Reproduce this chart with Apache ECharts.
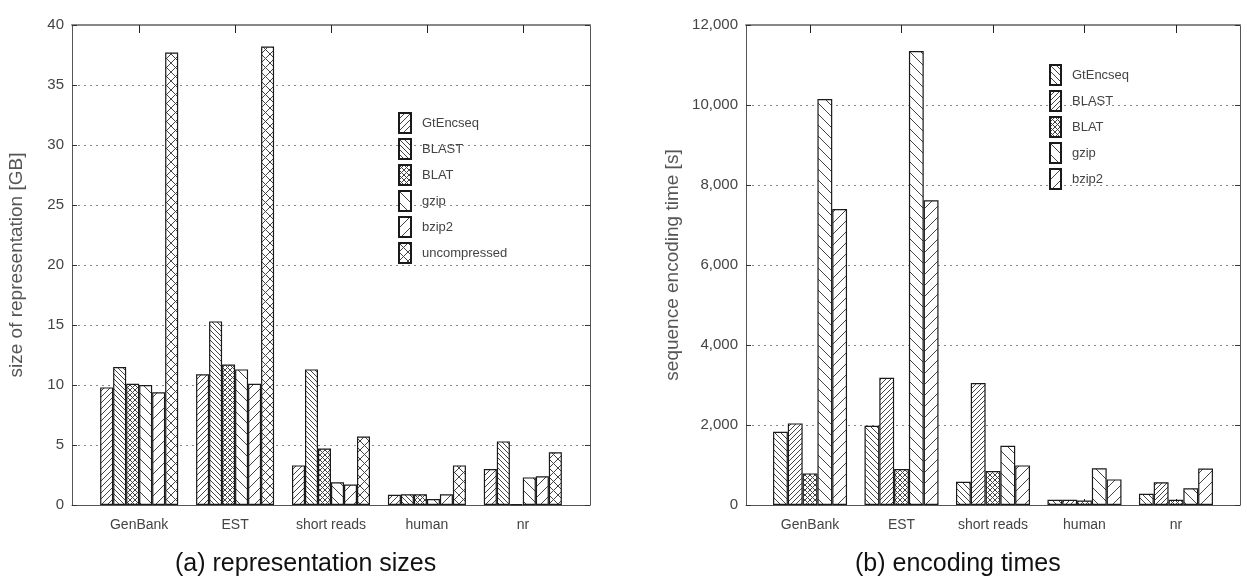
<!DOCTYPE html>
<html>
<head>
<meta charset="utf-8">
<script src="https://cdn.jsdelivr.net/npm/echarts@6.0.0/dist/echarts.min.js"></script>
<style>
  html, body { margin: 0; padding: 0; background: #fff; }
  #chart { width: 1247px; height: 588px; }
</style>
</head>
<body>
<div id="chart"></div>
<script>
  // data
  const categories = ['GenBank', 'EST', 'short reads', 'human', 'nr'];

  // (a) representation sizes [GB]
  const sizeNames = ['GtEncseq', 'BLAST', 'BLAT', 'gzip', 'bzip2', 'uncompressed'];
  const sizeGtEncseq = [9.8, 10.9, 3.3, 0.85, 3.0];
  const sizeBLAST = [11.5, 15.3, 11.3, 0.9, 5.3];
  const sizeBLAT = [10.1, 11.7, 4.7, 0.9, 0.05];
  const sizeGzip = [10.0, 11.3, 1.9, 0.5, 2.3];
  const sizeBzip2 = [9.4, 10.1, 1.7, 0.9, 2.4];
  const sizeUncompressed = [37.7, 38.2, 5.7, 3.3, 4.4];
  const sizeTicks = [0, 40, 5];

  // (b) encoding times [s]
  const timeNames = ['GtEncseq', 'BLAST', 'BLAT', 'gzip', 'bzip2'];
  const timeGtEncseq = [1830, 1980, 580, 130, 280];
  const timeBLAST = [2040, 3180, 3050, 130, 570];
  const timeBLAT = [790, 900, 850, 110, 130];
  const timeGzip = [10150, 11350, 1480, 920, 420];
  const timeBzip2 = [7400, 7620, 990, 640, 910];
  const timeTicks = [0, 12000, 2000];

  const textFont = '"Liberation Sans", Arial, sans-serif';
  const grey = '#555';

  // hatch fills like gnuplot patterns
  const makeHatch = (spacing, kinds) => {
    const c = document.createElement('canvas');
    c.width = c.height = spacing;
    const ctx = c.getContext('2d');
    ctx.fillStyle = '#fff';
    ctx.fillRect(0, 0, spacing, spacing);
    ctx.strokeStyle = '#444';
    ctx.lineWidth = 1;
    kinds.forEach(k => {
      for (let o = -spacing; o <= spacing; o += spacing) {
        ctx.beginPath();
        if (k === '/') {
          ctx.moveTo(o, spacing);
          ctx.lineTo(o + spacing, 0);
        } else {
          ctx.moveTo(o, 0);
          ctx.lineTo(o + spacing, spacing);
        }
        ctx.stroke();
      }
    });
    return { image: c, repeat: 'repeat' };
  };

  const sizeFills = [
    makeHatch(6, ['/']),
    makeHatch(5, ['\\']),
    makeHatch(5, ['/', '\\']),
    makeHatch(11, ['\\']),
    makeHatch(11, ['/']),
    makeHatch(9, ['/', '\\'])
  ];
  const timeFills = [
    makeHatch(6, ['\\']),
    makeHatch(5, ['/']),
    makeHatch(5, ['/', '\\']),
    makeHatch(11, ['\\']),
    makeHatch(11, ['/'])
  ];

  const catIdx = [0, 1, 2, 3, 4];

  const makeBars = (names, lists, fills, axisIdx, width, prefix) =>
    names.map((name, k) => ({
      name: prefix + name,
      type: 'bar',
      xAxisIndex: axisIdx,
      yAxisIndex: axisIdx,
      barWidth: width,
      barGap: '0%',
      data: lists[k].map((v, i) => [i, v]),
      itemStyle: { color: fills[k], borderColor: '#1a1a1a', borderWidth: 1.2 },
      emphasis: { disabled: true }
    }));

  const xAxes = (gridIndex) => [
    {
      type: 'value', gridIndex, min: -0.7, max: 4.7, position: 'bottom',
      axisLine: { onZero: false, lineStyle: { color: grey } },
      axisTick: { inside: true, length: 6, customValues: catIdx, lineStyle: { color: '#222' } },
      axisLabel: {
        customValues: catIdx, formatter: v => categories[Math.round(v)],
        margin: 13, fontSize: 14, color: '#444', fontFamily: textFont
      },
      splitLine: { show: false }
    },
    {
      type: 'value', gridIndex, min: -0.7, max: 4.7, position: 'top',
      axisLine: { onZero: false, lineStyle: { color: '#888', width: 2 } },
      axisTick: { inside: true, length: 8, customValues: catIdx, lineStyle: { color: '#222' } },
      axisLabel: { show: false },
      splitLine: { show: false }
    }
  ];

  const yAxes = (gridIndex, ticks, name, gap, fmt) => [
    {
      type: 'value', gridIndex, min: ticks[0], max: ticks[1], interval: ticks[2],
      position: 'left', name, nameLocation: 'middle', nameGap: gap,
      nameTextStyle: { fontSize: 19, color: grey, fontFamily: textFont },
      axisLine: { show: true, onZero: false, lineStyle: { color: grey } },
      axisTick: { show: true, inside: true, length: 5, lineStyle: { color: '#333' } },
      axisLabel: { margin: 8, fontSize: 15, color: '#444', fontFamily: textFont, formatter: fmt },
      splitLine: { show: true, lineStyle: { color: '#888', type: [2, 4], width: 1 } }
    },
    {
      type: 'value', gridIndex, min: ticks[0], max: ticks[1], interval: ticks[2],
      position: 'right',
      axisLine: { show: true, onZero: false, lineStyle: { color: grey } },
      axisTick: { show: true, inside: true, length: 5, lineStyle: { color: '#333' } },
      axisLabel: { show: false },
      splitLine: { show: false }
    }
  ];

  const legendBase = {
    orient: 'vertical',
    icon: 'rect',
    itemGap: 4,
    itemHeight: 20,
    selectedMode: false,
    formatter: n => n.replace(/^b:/, ''),
    textStyle: { fontSize: 13, color: '#444', fontFamily: textFont, padding: [0, 0, 0, 6] }
  };

  const chart = echarts.init(document.getElementById('chart'));
  chart.setOption({
    animation: false,
    backgroundColor: '#fff',
    title: [
      { text: '(a) representation sizes', left: 170, top: 547,
        textStyle: { fontSize: 25, fontWeight: 'normal', color: '#111', fontFamily: textFont } },
      { text: '(b) encoding times', left: 850, top: 547,
        textStyle: { fontSize: 25, fontWeight: 'normal', color: '#111', fontFamily: textFont } }
    ],
    legend: [
      Object.assign({}, legendBase, { data: sizeNames, left: 393, top: 107, itemWidth: 12 }),
      Object.assign({}, legendBase, { data: timeNames.map(n => 'b:' + n), left: 1044, top: 59, itemWidth: 11 })
    ],
    grid: [
      { left: 72, top: 25, width: 518, height: 480, outerBoundsMode: 'none' },
      { left: 746, top: 25, width: 494, height: 480, outerBoundsMode: 'none' }
    ],
    xAxis: [...xAxes(0), ...xAxes(1)],
    yAxis: [
      ...yAxes(0, sizeTicks, 'size of representation [GB]', 46, v => String(v)),
      ...yAxes(1, timeTicks, 'sequence encoding time [s]', 64, v => v.toLocaleString('en-US'))
    ],
    series: [
      ...makeBars(sizeNames,
        [sizeGtEncseq, sizeBLAST, sizeBLAT, sizeGzip, sizeBzip2, sizeUncompressed],
        sizeFills, 0, 13, ''),
      ...makeBars(timeNames,
        [timeGtEncseq, timeBLAST, timeBLAT, timeGzip, timeBzip2],
        timeFills, 2, 14.8, 'b:')
    ]
  });
</script>
</body>
</html>
